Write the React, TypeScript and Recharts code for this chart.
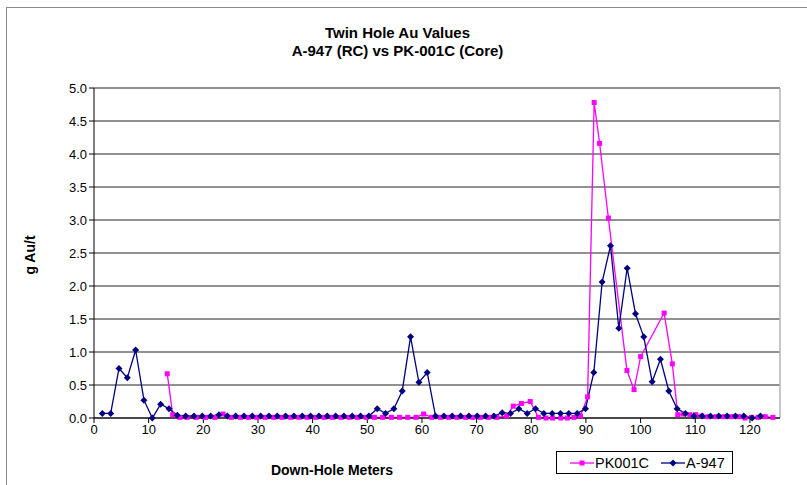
import { LineChart, Line, XAxis, YAxis, CartesianGrid, Legend, ReferenceLine } from "recharts";

// A-947 (RC) – 5 ft sample intervals
const a947Depth = [
  1.52, 3.05, 4.57, 6.1, 7.62, 9.14, 10.67, 12.19, 13.72, 15.24,
  16.76, 18.29, 19.81, 21.34, 22.86, 24.38, 25.91, 27.43, 28.96, 30.48,
  32.0, 33.53, 35.05, 36.58, 38.1, 39.62, 41.15, 42.67, 44.2, 45.72,
  47.24, 48.77, 50.29, 51.82, 53.34, 54.86, 56.39, 57.91, 59.44, 60.96,
  62.48, 64.01, 65.53, 67.06, 68.58, 70.1, 71.63, 73.15, 74.68, 76.2,
  77.72, 79.25, 80.77, 82.3, 83.82, 85.34, 86.87, 88.39, 89.92, 91.44,
  92.96, 94.49, 96.01, 97.54, 99.06, 100.58, 102.11, 103.63, 105.16, 106.68,
  108.2, 109.73, 111.25, 112.78, 114.3, 115.82, 117.35, 118.87, 120.4, 121.92,
];
const a947Au = [
  0.07, 0.07, 0.75, 0.61, 1.03, 0.27, 0.0, 0.21, 0.14, 0.04,
  0.03, 0.03, 0.03, 0.03, 0.05, 0.03, 0.03, 0.03, 0.03, 0.03,
  0.03, 0.03, 0.03, 0.03, 0.03, 0.03, 0.03, 0.03, 0.03, 0.03,
  0.03, 0.03, 0.03, 0.14, 0.07, 0.14, 0.41, 1.23, 0.54, 0.69,
  0.03, 0.03, 0.03, 0.03, 0.03, 0.03, 0.03, 0.03, 0.08, 0.07,
  0.14, 0.07, 0.14, 0.07, 0.07, 0.07, 0.07, 0.07, 0.14, 0.69,
  2.06, 2.61, 1.36, 2.27, 1.58, 1.23, 0.55, 0.89, 0.41, 0.14,
  0.07, 0.03, 0.03, 0.03, 0.03, 0.03, 0.03, 0.03, 0.0, 0.03,
];

// PK-001C (core) – irregular intervals
const pkDepth = [
  13.4, 14.4, 15.7, 17.0, 18.7, 20.4, 22.1, 23.6, 25.1, 26.8,
  28.3, 29.8, 31.3, 32.9, 34.4, 36.0, 37.5, 39.0, 40.6, 42.1,
  43.6, 45.2, 46.7, 48.2, 49.8, 51.3, 52.8, 54.4, 55.9, 57.4,
  58.9, 60.3, 61.8, 63.4, 64.9, 66.4, 68.0, 69.3, 70.7, 72.2,
  73.7, 75.5, 76.7, 78.2, 79.8, 81.3, 82.7, 83.9, 85.4, 86.6,
  87.8, 89.0, 90.3, 91.5, 92.5, 94.1, 97.5, 98.8, 100.0, 104.3,
  105.8, 106.8, 107.8, 109.0, 110.1, 111.2, 112.3, 113.8, 115.2, 116.6,
  118.0, 119.1, 120.3, 121.5, 122.8, 124.2,
];
const pkAu = [
  0.67, 0.05, 0.01, 0.01, 0.01, 0.01, 0.01, 0.06, 0.01, 0.01,
  0.01, 0.01, 0.01, 0.01, 0.01, 0.01, 0.01, 0.01, 0.01, 0.01,
  0.01, 0.01, 0.01, 0.01, 0.01, 0.01, 0.01, 0.01, 0.01, 0.01,
  0.01, 0.06, 0.01, 0.01, 0.01, 0.01, 0.01, 0.01, 0.01, 0.01,
  0.01, 0.03, 0.18, 0.22, 0.25, 0.01, 0.0, 0.0, 0.0, 0.0,
  0.01, 0.03, 0.32, 4.78, 4.16, 3.03, 0.72, 0.43, 0.93, 1.59,
  0.82, 0.05, 0.06, 0.05, 0.05, 0.03, 0.02, 0.02, 0.02, 0.02,
  0.02, 0.0, 0.01, 0.01, 0.02, 0.01,
];

const xTicks = [0, 10, 20, 30, 40, 50, 60, 70, 80, 90, 100, 110, 120];
const yTicks = [0, 0.5, 1, 1.5, 2, 2.5, 3, 3.5, 4, 4.5, 5];

const a947Data = a947Depth.map((x, i) => ({ x, v: a947Au[i] }));
const pkData = pkDepth.map((x, i) => ({ x, v: pkAu[i] }));

const PINK = "#FF00FF";
const NAVY = "#000080";
const FONT = "'Liberation Sans', Arial, sans-serif";

const SquareDot = (props: any) => {
  const { cx, cy, index } = props;
  if (cx == null || cy == null) return null;
  return <rect key={`sq-${index}`} x={cx - 2.5} y={cy - 2.5} width={5} height={5} fill={PINK} />;
};

const DiamondDot = (props: any) => {
  const { cx, cy, index } = props;
  if (cx == null || cy == null) return null;
  const r = 3.5;
  return (
    <polygon
      key={`dm-${index}`}
      points={`${cx},${cy - r} ${cx + r},${cy} ${cx},${cy + r} ${cx - r},${cy}`}
      fill={NAVY}
    />
  );
};

const LegendBox = () => (
  <div
    style={{
      border: "1px solid #000",
      width: 175,
      height: 21,
      boxSizing: "content-box",
      display: "flex",
      alignItems: "center",
      fontFamily: FONT,
      fontSize: 14.5,
      color: "#000",
      background: "#fff",
    }}
  >
    <svg width={24} height={10} style={{ marginLeft: 13 }}>
      <line x1={0} y1={5} x2={24} y2={5} stroke={PINK} strokeWidth={1.3} />
      <rect x={9.5} y={2.5} width={5} height={5} fill={PINK} />
    </svg>
    <span style={{ marginLeft: 1 }}>PK001C</span>
    <svg width={24} height={10} style={{ marginLeft: 12 }}>
      <line x1={0} y1={5} x2={24} y2={5} stroke={NAVY} strokeWidth={1.3} />
      <polygon points="12,1.5 15.5,5 12,8.5 8.5,5" fill={NAVY} />
    </svg>
    <span style={{ marginLeft: 1 }}>A-947</span>
  </div>
);

export default function App() {
  return (
    <div
      style={{
        position: "absolute",
        left: 0,
        top: 0,
        width: 807,
        height: 485,
        overflow: "hidden",
        background: "#fff",
      }}
    >
      <div
        style={{
          position: "absolute",
          left: 6,
          top: 7,
          width: 900,
          height: 600,
          border: "1px solid #8c8c8c",
        }}
      />
      <div
        style={{
          position: "absolute",
          left: 0,
          top: 24,
          width: 795,
          textAlign: "center",
          fontFamily: FONT,
          fontWeight: "bold",
          fontSize: 15,
          lineHeight: "18px",
          color: "#000",
        }}
      >
        Twin Hole Au Values
        <br />
        A-947 (RC) vs PK-001C (Core)
      </div>
      <div
        style={{
          position: "absolute",
          left: 30,
          top: 255,
          transform: "translate(-50%, -50%) rotate(-90deg)",
          fontFamily: FONT,
          fontWeight: "bold",
          fontSize: 14,
          whiteSpace: "nowrap",
        }}
      >
        g Au/t
      </div>
      <div
        style={{
          position: "absolute",
          left: 332,
          top: 470,
          transform: "translate(-50%, -50%)",
          fontFamily: FONT,
          fontWeight: "bold",
          fontSize: 14,
          whiteSpace: "nowrap",
        }}
      >
        Down-Hole Meters
      </div>
      <div style={{ position: "absolute", left: 0, top: 0 }}>
        <LineChart width={807} height={485} margin={{ top: 88, right: 27, bottom: 47, left: 54 }}>
          <CartesianGrid horizontal vertical={false} stroke="#222" />
          <XAxis
            type="number"
            dataKey="x"
            domain={[0, 125.5]}
            ticks={xTicks}
            allowDataOverflow
            height={20}
            stroke="#000"
            tickSize={5}
            tick={{ fill: "#000", fontSize: 13, fontFamily: FONT }}
          />
          <YAxis
            type="number"
            domain={[0, 5]}
            ticks={yTicks}
            width={40}
            stroke="#000"
            tickSize={5}
            tickFormatter={(v: number) => v.toFixed(1)}
            tick={{ fill: "#000", fontSize: 13, fontFamily: FONT }}
          />
          <ReferenceLine x={125.5} stroke="#b4b4b4" strokeWidth={1.5} />
          <Legend
            layout="horizontal"
            verticalAlign="middle"
            align="center"
            wrapperStyle={{ position: "absolute", left: 556, top: 451, width: 177, height: 23 }}
            content={() => <LegendBox />}
          />
          <Line
            data={pkData}
            dataKey="v"
            name="PK001C"
            stroke={PINK}
            strokeWidth={1.3}
            dot={SquareDot}
            activeDot={false}
            isAnimationActive={false}
          />
          <Line
            data={a947Data}
            dataKey="v"
            name="A-947"
            stroke={NAVY}
            strokeWidth={1.3}
            dot={DiamondDot}
            activeDot={false}
            isAnimationActive={false}
          />
        </LineChart>
      </div>
    </div>
  );
}
